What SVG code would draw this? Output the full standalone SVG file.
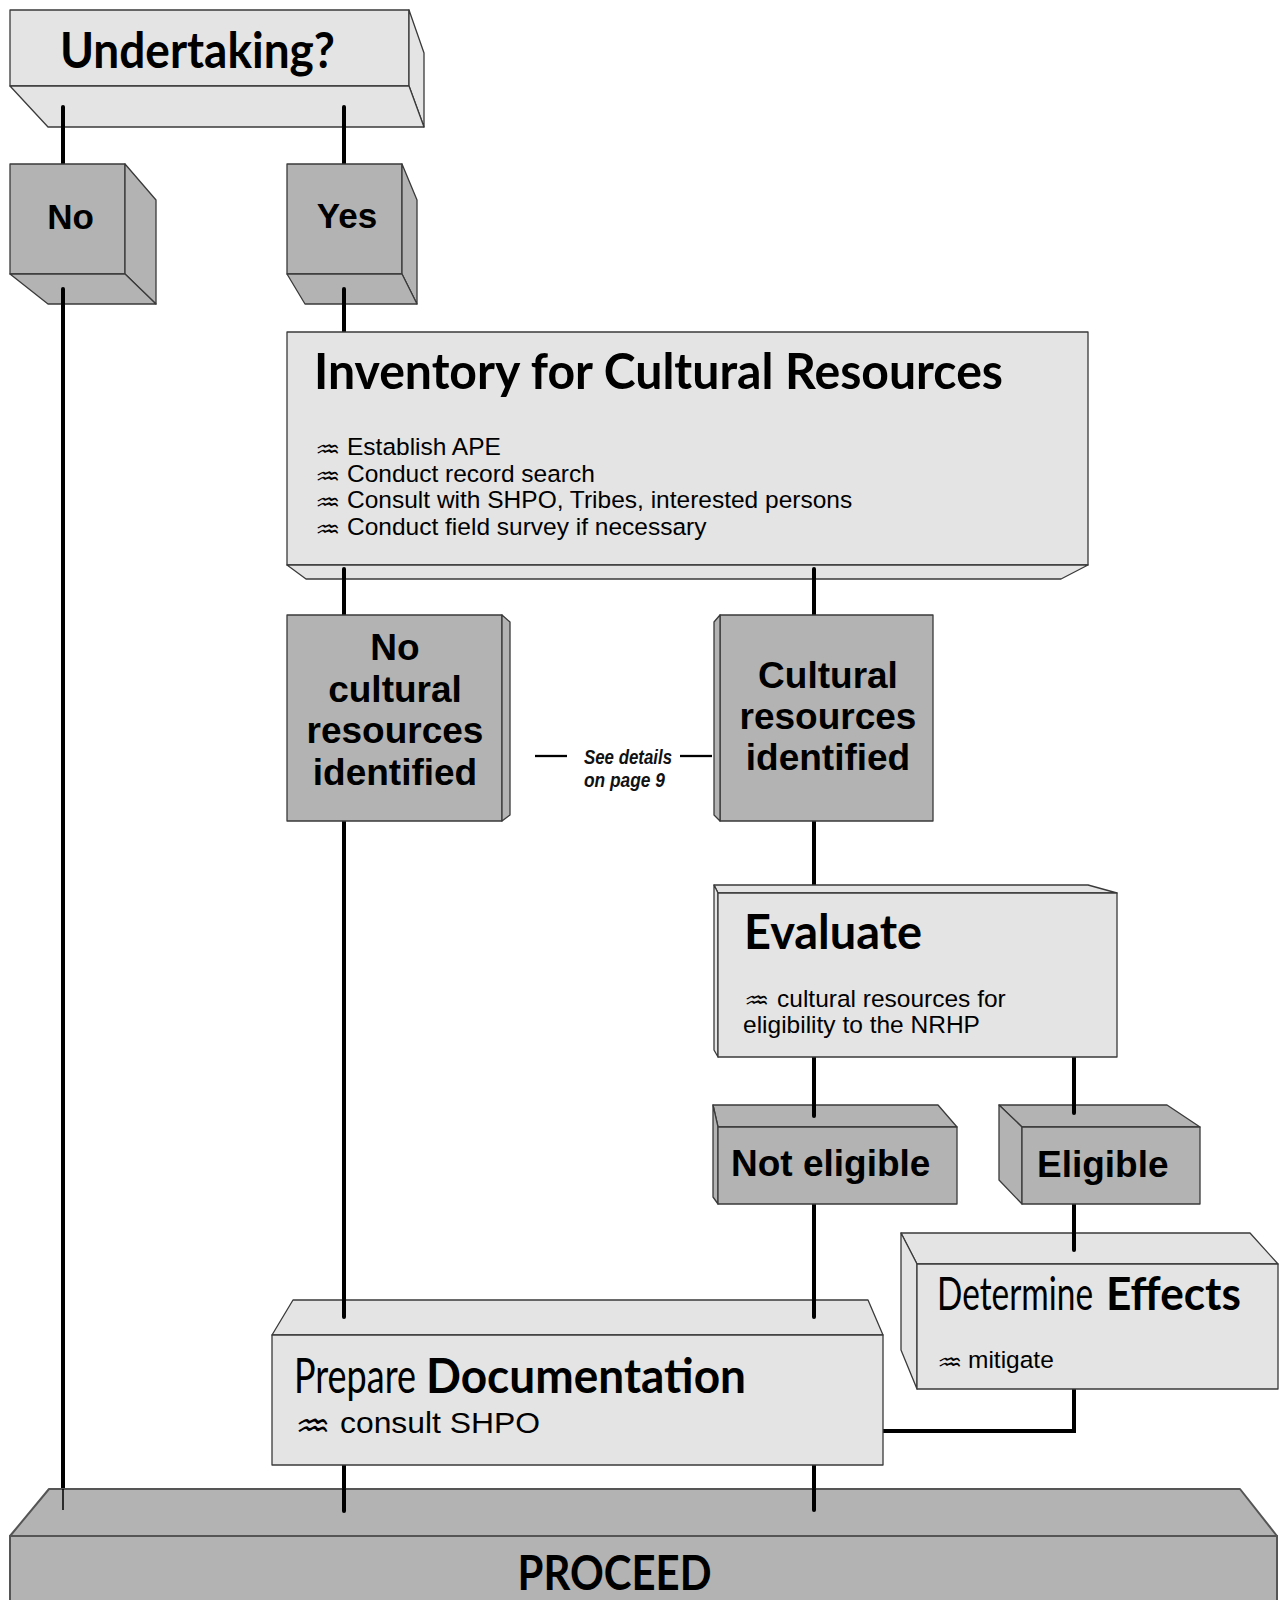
<svg xmlns="http://www.w3.org/2000/svg" width="1282" height="1600" viewBox="0 0 1282 1600">
<style>
.light{fill:#e4e4e4;stroke:#3a3a3a;stroke-width:1.3;stroke-linejoin:round}
.dark{fill:#b3b3b3;stroke:#3a3a3a;stroke-width:1.3;stroke-linejoin:round}
.conn{stroke:#000;stroke-width:4;fill:none;stroke-linecap:round}
.thin{stroke:#000;stroke-width:1.5;fill:none}
.dash{stroke:#000;stroke-width:2.3}
.gill{font-family:Lato,"Open Sans","Liberation Sans",sans-serif;fill:#000}
.gb{font-weight:bold}
.gr{font-weight:normal}
.hb{font-family:"Liberation Sans",Arial,sans-serif;font-weight:bold;font-size:37px;fill:#000}
.body{font-family:"Liberation Sans",Arial,sans-serif;font-size:24.5px;fill:#000}
.bul{font-family:"DejaVu Sans",sans-serif;font-size:22px;fill:#000}
.note{font-family:"Liberation Sans",Arial,sans-serif;font-size:19.5px;font-style:italic;font-weight:bold;fill:#111}
</style>

<g id="connectors">
  <line class="conn" x1="63" y1="107" x2="63" y2="164"/>
  <line class="conn" x1="344" y1="107" x2="344" y2="164"/>
  <line class="conn" x1="63" y1="289" x2="63" y2="1489"/>
  <line class="thin" x1="63" y1="1489" x2="63" y2="1510"/>
  <line class="conn" x1="344" y1="289" x2="344" y2="332"/>
  <line class="conn" x1="344" y1="569" x2="344" y2="615"/>
  <line class="conn" x1="814" y1="569" x2="814" y2="615"/>
  <line class="conn" x1="344" y1="821" x2="344" y2="1317"/>
  <line class="conn" x1="814" y1="821" x2="814" y2="891"/>
  <line class="conn" x1="814" y1="1057" x2="814" y2="1116"/>
  <line class="conn" x1="1074" y1="1057" x2="1074" y2="1113"/>
  <line class="conn" x1="814" y1="1204" x2="814" y2="1317"/>
  <line class="conn" x1="1074" y1="1204" x2="1074" y2="1250"/>
  <polyline class="conn" style="stroke-linecap:butt;stroke-linejoin:miter" points="1074,1389 1074,1431 883,1431"/>
  <line class="conn" x1="344" y1="1465" x2="344" y2="1511"/>
  <line class="conn" x1="814" y1="1465" x2="814" y2="1510"/>
  <line class="dash" x1="535" y1="756" x2="567" y2="756"/>
  <line class="dash" x1="680" y1="756" x2="712" y2="756"/>
</g>

<g id="undertaking">
  <rect class="light" x="10" y="10" width="399" height="76"/>
  <polygon class="light" points="409,10 424,53 424,127 409,86"/>
  <polygon class="light" points="10,86 409,86 424,127 48,127"/>
  <text class="gill gb" x="60" y="68" font-size="50" textLength="275" lengthAdjust="spacingAndGlyphs">Undertaking?</text>
</g>
<line class="conn" x1="63" y1="107" x2="63" y2="127"/>
<line class="conn" x1="344" y1="107" x2="344" y2="127"/>

<g id="no">
  <rect class="dark" x="10" y="164" width="115" height="110"/>
  <polygon class="dark" points="125,164 156,200 156,304 125,274"/>
  <polygon class="dark" points="10,274 125,274 156,304 48,304"/>
  <text class="hb" x="70.5" y="229" style="font-size:35px" text-anchor="middle">No</text>
</g>
<line class="conn" x1="63" y1="289" x2="63" y2="304"/>

<g id="yes">
  <rect class="dark" x="287" y="164" width="115" height="110"/>
  <polygon class="dark" points="402,164 417,200 417,304 402,274"/>
  <polygon class="dark" points="287,274 402,274 417,304 305,304"/>
  <text class="hb" x="347" y="228" style="font-size:35px" text-anchor="middle">Yes</text>
</g>
<line class="conn" x1="344" y1="289" x2="344" y2="304"/>

<g id="inventory">
  <rect class="light" x="287" y="332" width="801" height="233"/>
  <polygon class="light" points="287,565 1088,565 1061,579 306,579"/>
  <text class="gill gb" x="314" y="389" font-size="50" textLength="689" lengthAdjust="spacingAndGlyphs">Inventory for Cultural Resources</text>
  <text class="bul" transform="translate(315,457) scale(1.3,1)">♒</text><text class="body" x="347" y="455">Establish APE</text>
  <text class="bul" transform="translate(315,483.5) scale(1.3,1)">♒</text><text class="body" x="347" y="481.5">Conduct record search</text>
  <text class="bul" transform="translate(315,510) scale(1.3,1)">♒</text><text class="body" x="347" y="508">Consult with SHPO, Tribes, interested persons</text>
  <text class="bul" transform="translate(315,536.5) scale(1.3,1)">♒</text><text class="body" x="347" y="534.5">Conduct field survey if necessary</text>
</g>
<line class="conn" x1="344" y1="569" x2="344" y2="579"/>
<line class="conn" x1="814" y1="569" x2="814" y2="579"/>

<g id="no-cultural">
  <rect class="dark" x="287" y="615" width="215" height="206"/>
  <polygon class="dark" points="502,615 510,622 510,815 502,821"/>
  <text class="hb" text-anchor="middle" x="395" y="660">No</text>
  <text class="hb" text-anchor="middle" x="395" y="701.5">cultural</text>
  <text class="hb" text-anchor="middle" x="395" y="743">resources</text>
  <text class="hb" text-anchor="middle" x="395" y="784.5">identified</text>
</g>

<g id="see-details">
  <text class="note" x="584" y="764" textLength="88" lengthAdjust="spacingAndGlyphs">See details</text>
  <text class="note" x="584" y="787" textLength="81" lengthAdjust="spacingAndGlyphs">on page 9</text>
</g>

<g id="cultural">
  <rect class="dark" x="720" y="615" width="213" height="206"/>
  <polygon class="dark" points="720,615 714,622 714,815 720,821"/>
  <text class="hb" text-anchor="middle" x="828" y="688">Cultural</text>
  <text class="hb" text-anchor="middle" x="828" y="729">resources</text>
  <text class="hb" text-anchor="middle" x="828" y="770">identified</text>
</g>

<g id="evaluate">
  <polygon class="light" points="714,885 1088,885 1117,893 718,893"/>
  <polygon class="light" points="714,885 718,893 718,1057 714,1050"/>
  <rect class="light" x="718" y="893" width="399" height="164"/>
  <text class="gill gb" x="744" y="949" font-size="47" textLength="178" lengthAdjust="spacingAndGlyphs">Evaluate</text>
  <text class="bul" transform="translate(744,1008) scale(1.3,1)">♒</text><text class="body" x="777" y="1007">cultural resources for</text>
  <text class="body" x="743" y="1033">eligibility to the NRHP</text>
</g>

<g id="not-eligible">
  <polygon class="dark" points="713,1105 938,1105 957,1127 718,1127"/>
  <polygon class="dark" points="713,1105 718,1127 718,1204 713,1197"/>
  <rect class="dark" x="718" y="1127" width="239" height="77"/>
  <text class="hb" x="731" y="1176">Not eligible</text>
</g>
<line class="conn" x1="814" y1="1105" x2="814" y2="1116"/>

<g id="eligible">
  <polygon class="dark" points="999,1105 1167,1105 1200,1127 1022,1127"/>
  <polygon class="dark" points="999,1105 1022,1127 1022,1204 999,1180"/>
  <rect class="dark" x="1022" y="1127" width="178" height="77"/>
  <text class="hb" x="1037" y="1177">Eligible</text>
</g>
<line class="conn" x1="1074" y1="1105" x2="1074" y2="1113"/>

<g id="determine-effects">
  <polygon class="light" points="901,1233 1250,1233 1278,1264 917,1264"/>
  <polygon class="light" points="901,1233 917,1264 917,1389 901,1350"/>
  <rect class="light" x="917" y="1264" width="361" height="125"/>
  <text class="gill gr" transform="translate(937,1310) scale(0.74,1)" x="0" y="0" font-size="46" textLength="211" lengthAdjust="spacingAndGlyphs">Determine</text>
  <text class="gill gb" x="1106" y="1310" font-size="46" textLength="135" lengthAdjust="spacingAndGlyphs">Effects</text>
  <text class="bul" transform="translate(937,1370) scale(1.3,1)">♒</text><text class="body" x="968" y="1368">mitigate</text>
</g>
<line class="conn" x1="1074" y1="1233" x2="1074" y2="1250"/>

<g id="prepare-documentation">
  <polygon class="light" points="293,1300 868,1300 883,1335 272,1335"/>
  <rect class="light" x="272" y="1335" width="611" height="130"/>
  <text class="gill gr" transform="translate(294,1393) scale(0.744,1)" x="0" y="0" font-size="48" textLength="164" lengthAdjust="spacingAndGlyphs">Prepare</text>
  <text class="gill gb" x="426" y="1393" font-size="48" textLength="320" lengthAdjust="spacingAndGlyphs">Documentation</text>
  <text class="bul" transform="translate(295,1437) scale(1.25,1)" style="font-size:32px">♒</text><text class="body" x="340" y="1433" style="font-size:30px" textLength="200" lengthAdjust="spacingAndGlyphs">consult SHPO</text>
</g>
<line class="conn" x1="344" y1="1300" x2="344" y2="1317"/>
<line class="conn" x1="814" y1="1300" x2="814" y2="1317"/>

<g id="proceed">
  <polygon class="dark" style="stroke:#555;stroke-width:2" points="49,1489 1240,1489 1277,1536 10,1536"/>
  <rect class="dark" style="stroke:#555;stroke-width:2" x="10" y="1536" width="1267" height="70"/>
  <text class="gill gb" x="614.5" y="1590" font-size="48" text-anchor="middle" textLength="194" lengthAdjust="spacingAndGlyphs">PROCEED</text>
</g>
<line class="thin" x1="63" y1="1489" x2="63" y2="1510"/>
<line class="conn" x1="344" y1="1489" x2="344" y2="1511"/>
<line class="conn" x1="814" y1="1489" x2="814" y2="1510"/>
</svg>
